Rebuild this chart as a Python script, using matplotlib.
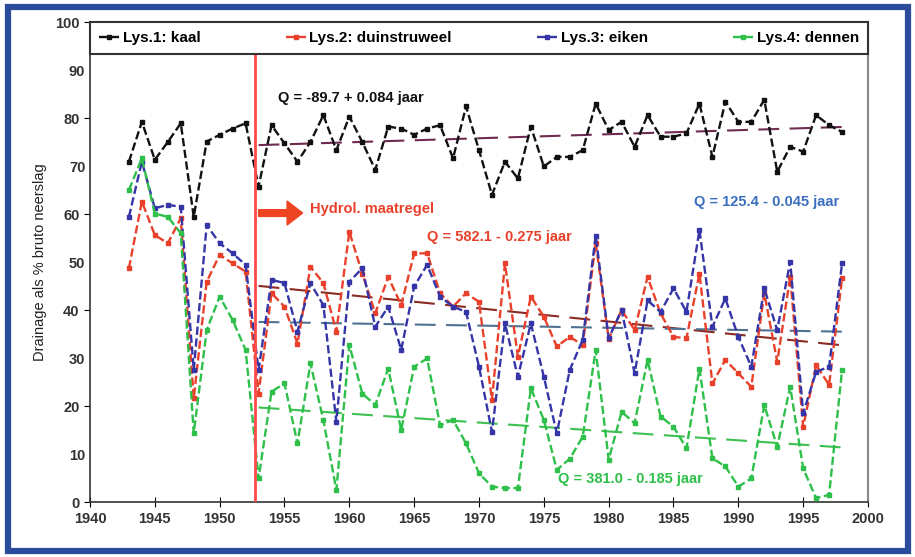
import numpy as np
import matplotlib
matplotlib.use('Agg')
import matplotlib.pyplot as plt
from matplotlib.patches import Rectangle, FancyArrow

# jaren 1943 - 1998
jaren = np.arange(1943, 1999)

kaal = [70.9, 79.2, 71.3, 75.0, 78.9, 59.4, 75.1, 76.5, 77.8, 78.9,
        65.7, 78.5, 74.7, 70.9, 75.0, 80.6, 73.3, 80.3, 75.0, 69.2,
        78.2, 77.8, 76.5, 77.8, 78.5, 71.6, 82.4, 73.3, 64.0, 70.9,
        67.4, 78.2, 69.9, 71.9, 71.9, 73.3, 83.0, 77.5, 79.2, 74.0,
        80.6, 76.1, 76.1, 76.8, 83.0, 71.9, 83.4, 79.2, 79.2, 83.8,
        68.8, 74.0, 73.0, 80.6, 78.5, 77.1]
duinstruweel = [48.7, 62.6, 55.6, 53.9, 59.1, 21.6, 45.9, 51.5, 49.7, 48.0,
                22.6, 43.5, 40.7, 33.0, 49.0, 45.6, 35.5, 56.3, 47.6, 39.3,
                46.9, 41.0, 51.8, 51.8, 43.5, 40.7, 43.5, 41.7, 21.3, 49.7,
                30.3, 42.8, 38.6, 32.4, 34.4, 32.7, 54.0, 34.0, 40.0, 35.8,
                46.9, 39.3, 34.4, 34.1, 47.6, 24.7, 29.6, 26.8, 24.0, 43.5,
                29.2, 46.9, 15.7, 28.5, 24.4, 46.6]
eiken = [59.4, 70.9, 61.2, 61.9, 61.5, 27.5, 57.7, 53.9, 51.8, 49.4,
         27.5, 46.3, 45.6, 35.5, 45.6, 41.0, 16.7, 45.9, 48.7, 36.5,
         40.7, 31.7, 44.9, 49.4, 42.8, 40.7, 39.6, 28.2, 14.6, 37.2,
         26.1, 37.2, 26.1, 14.3, 27.5, 33.8, 55.5, 34.1, 40.0, 26.8,
         42.0, 39.6, 44.5, 39.6, 56.7, 36.5, 42.4, 34.4, 28.2, 44.5,
         35.8, 50.1, 18.5, 27.1, 28.2, 49.7]
dennen = [65.0, 71.6, 60.1, 59.4, 56.0, 14.3, 35.8, 42.8, 37.9, 31.7,
          4.9, 23.0, 24.7, 12.2, 28.9, 17.0, 2.5, 32.7, 22.6, 20.2,
          27.8, 15.0, 28.2, 29.9, 16.0, 17.1, 12.2, 6.0, 3.2, 2.9,
          2.9, 23.7, 17.1, 6.7, 9.0, 13.6, 31.7, 8.8, 18.8, 16.4,
          29.6, 17.8, 15.7, 11.2, 27.8, 9.1, 7.4, 3.2, 4.9, 20.2,
          11.5, 24.0, 7.0, 0.8, 1.5, 27.5]

labels = ['Lys.1: kaal', 'Lys.2: duinstruweel', 'Lys.3: eiken', 'Lys.4: dennen']
kleuren = ['#111111', '#e8402a', '#3535a8', '#2ec04a']
tekstkleuren = ['#111111', '#e8402a', '#3a6fc0', '#2ec04a']
trendkleuren = ['#6e2b50', '#8b2a22', '#4f7193', '#3cc050']

# regressie Q = a + b * jaar, vanaf 1953
trend_a = [-89.7, 582.1, 125.4, 381.0]
trend_b = [0.084, -0.275, -0.045, -0.185]
trend_jaren = np.array([1953, 1998])
trend_tekst = ['Q = -89.7 + 0.084 jaar', 'Q = 582.1 - 0.275 jaar',
               'Q = 125.4 - 0.045 jaar', 'Q = 381.0 - 0.185 jaar']
tekst_pos = [(1954.5, 83.3), (1966.0, 54.3), (1986.6, 61.6), (1976.1, 4.0)]

maatregel_jaar = 1952.7

fam = ['Liberation Sans Narrow', 'Liberation Sans', 'DejaVu Sans']

fig = plt.figure(figsize=(9.15, 5.57), dpi=100)
ax = fig.add_axes([90 / 915, 1 - 502 / 557, 778 / 915, 480 / 557])

# blauwe rand rond de figuur
fig.patches.append(Rectangle((8 / 915, 6 / 557), 900 / 915, 544 / 557,
                             transform=fig.transFigure, fill=False,
                             edgecolor='#2b4c9b', linewidth=4.5))

reeksen = [kaal, duinstruweel, eiken, dennen]
for i, ys in enumerate(reeksen):
    ax.plot(jaren, ys, color=kleuren[i], linestyle=(0, (3.5, 1.5)), linewidth=1.7,
            marker='s', markersize=2.2, label=labels[i], zorder=3)

for i in range(4):
    ty = trend_a[i] + trend_b[i] * trend_jaren
    ax.plot(trend_jaren, ty, color=trendkleuren[i], linestyle=(0, (10, 5)),
            linewidth=1.5, zorder=2)
    ax.text(tekst_pos[i][0], tekst_pos[i][1], trend_tekst[i], color=tekstkleuren[i],
            fontsize=10.5, fontweight='bold', family=fam, zorder=5)

ax.axvline(maatregel_jaar, color='#ff4a4a', linewidth=2, zorder=4)
ax.add_patch(FancyArrow(1953.0, 60.2, 2.2, 0, width=1.4, head_width=5.0,
                        head_length=1.2, color='#ee4422', zorder=5))
ax.text(1957.0, 60.3, 'Hydrol. maatregel', color='#e8402a', fontsize=10.5,
        fontweight='bold', family=fam, zorder=5)

ax.set_xlim(1940, 2000)
ax.set_ylim(0, 100)
ax.set_xticks(np.arange(1940, 2001, 5))
ax.set_yticks(np.arange(0, 101, 20))
ax.set_yticks(np.arange(10, 100, 20), minor=True)
ax.set_yticklabels([str(v) for v in np.arange(10, 100, 20)], minor=True)
ax.tick_params(axis='y', which='minor', length=0)
ax.tick_params(axis='x', direction='inout', length=7)
ax.tick_params(axis='y', direction='out', length=4)
for lab in ax.get_xticklabels() + ax.get_yticklabels() + ax.get_yticklabels(minor=True):
    lab.set_fontfamily(fam)
    lab.set_fontweight('bold')
    lab.set_fontsize(10.5)
    lab.set_color('#333333')

for s in ['left', 'bottom']:
    ax.spines[s].set_color('#333333')
    ax.spines[s].set_linewidth(1.2)
for s in ['right', 'top']:
    ax.spines[s].set_color('#888888')
    ax.spines[s].set_linewidth(1.5)

ax.set_ylabel('Drainage als % bruto neerslag', fontsize=10.5, family=fam,
              color='#222222', labelpad=6)

leg = ax.legend(loc='upper left', bbox_to_anchor=(0, 1, 1, 0), mode='expand',
                ncol=4, frameon=True, fancybox=False, borderaxespad=0,
                handlelength=1.3, handletextpad=0.25,
                prop={'family': fam, 'weight': 'bold', 'size': 11},
                borderpad=0.6)
leg.get_frame().set_edgecolor('#333333')
leg.get_frame().set_linewidth(1.5)
leg.get_frame().set_alpha(1)

fig.savefig('out.png', dpi=100)
